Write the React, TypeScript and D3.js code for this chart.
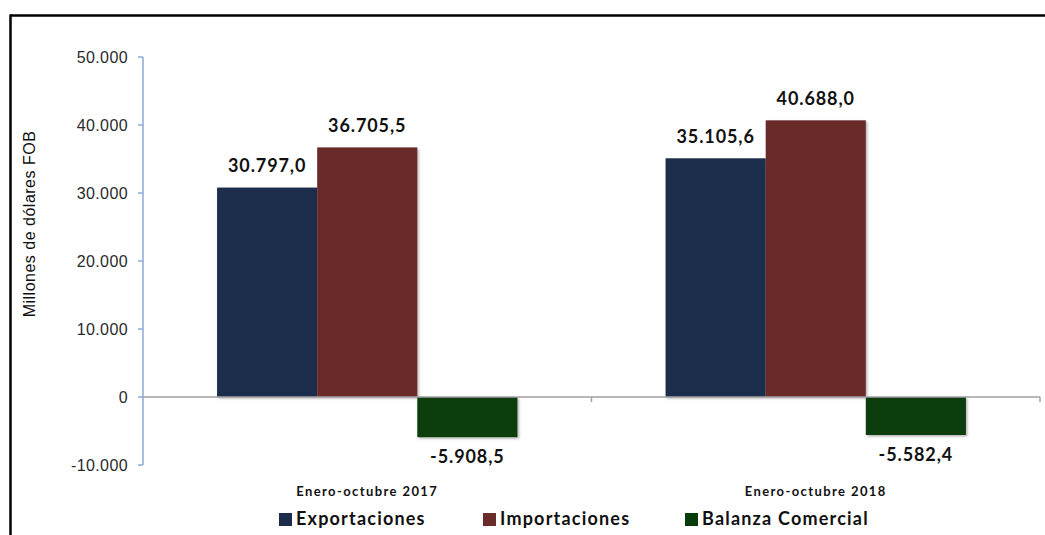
import React from "react";
import * as d3 from "d3";

const categories = ["Enero-octubre 2017", "Enero-octubre 2018"];
const seriesNames = ["Exportaciones", "Importaciones", "Balanza Comercial"];
const exportaciones = [30797.0, 35105.6];
const importaciones = [36705.5, 40688.0];
const balanza = [-5908.5, -5582.4];
const yTicks = [-10000, 0, 10000, 20000, 30000, 40000, 50000];
const colors = ["#1b2d4b", "#6a2b2b", "#083c09"];

const W = 1045;
const H = 535;

const fmtTick = (v: number) => {
  const s = d3.format(",.0f")(Math.abs(v)).replace(/,/g, ".");
  return (v < 0 ? "-" : "") + s;
};
const fmtVal = (v: number) => {
  const s = d3.format(",.1f")(Math.abs(v));
  const swapped = s.replace(/,/g, "#").replace(".", ",").replace(/#/g, ".");
  return (v < 0 ? "-" : "") + swapped;
};

export default function App() {
  const series = [exportaciones, importaciones, balanza];
  const plotLeft = 143;
  const plotRight = 1040;
  const y = d3.scaleLinear().domain([-10000, 50000]).range([465, 57]);
  const x0 = d3.scaleBand<string>().domain(categories).range([plotLeft, plotRight]).padding(0);
  const x1 = d3
    .scaleBand<string>()
    .domain(seriesNames)
    .range([0, x0.bandwidth()])
    .paddingInner(0)
    .paddingOuter(0.74);
  const labelFont = "Lato, 'Open Sans', sans-serif";
  const tickFont = "'Liberation Sans', Arial, sans-serif";

  return (
    <svg
      width={W}
      height={H}
      style={{ position: "absolute", left: 0, top: 0, background: "#fff" }}
    >
      <defs>
        <filter id="sh" x="-10%" y="-10%" width="130%" height="130%">
          <feDropShadow dx="1.5" dy="1.5" stdDeviation="1.2" floodColor="#000" floodOpacity="0.3" />
        </filter>
      </defs>
      {/* frame */}
      <line x1={10} y1={15.5} x2={W} y2={15.5} stroke="#000" strokeWidth={2.5} />
      <line x1={10.5} y1={14.5} x2={10.5} y2={H} stroke="#000" strokeWidth={2.5} />

      {/* y axis */}
      <line x1={plotLeft} x2={plotLeft} y1={y(50000)} y2={y(-10000)} stroke="#8aaad6" strokeWidth={1.5} />
      {yTicks.map((t) => (
        <g key={t}>
          <line x1={plotLeft - 5} x2={plotLeft} y1={y(t)} y2={y(t)} stroke="#8aaad6" strokeWidth={1.5} />
          <text
            x={plotLeft - 15}
            y={y(t)}
            dy="0.35em"
            textAnchor="end"
            fontFamily={tickFont}
            fontSize={16}
            letterSpacing={0.4}
            fill="#2a2a2a"
          >
            {fmtTick(t)}
          </text>
        </g>
      ))}
      <text
        transform={`translate(35, ${224}) rotate(-90)`}
        textAnchor="middle"
        fontFamily={tickFont}
        fontSize={16}
        letterSpacing={0.5}
        fill="#111"
      >
        Millones de dólares FOB
      </text>

      {/* bars */}
      {categories.map((c, ci) => (
        <g key={c}>
          {seriesNames.map((s, si) => {
            const v = series[si][ci];
            const bx = (x0(c) as number) + (x1(s) as number);
            const top = y(Math.max(0, v));
            const h = Math.abs(y(v) - y(0));
            return (
              <rect
                key={s}
                x={bx}
                y={top}
                width={x1.bandwidth()}
                height={h}
                fill={colors[si]}
                filter="url(#sh)"
              />
            );
          })}
        </g>
      ))}

      {/* x axis */}
      <line x1={plotLeft} x2={plotRight} y1={y(0)} y2={y(0)} stroke="#a0a0a0" strokeWidth={1.5} />
      {categories.map((c) => (
        <line
          key={c}
          x1={(x0(c) as number) + x0.bandwidth()}
          x2={(x0(c) as number) + x0.bandwidth()}
          y1={y(0)}
          y2={y(0) + 5}
          stroke="#a0a0a0"
          strokeWidth={1.5}
        />
      ))}

      {/* value labels */}
      {categories.map((c, ci) =>
        seriesNames.map((s, si) => {
          const v = series[si][ci];
          const cx = (x0(c) as number) + (x1(s) as number) + x1.bandwidth() / 2;
          const ly = v >= 0 ? y(v) - 22 : y(v) + 20;
          return (
            <text
              key={c + s}
              x={cx}
              y={ly}
              dy="0.35em"
              textAnchor="middle"
              fontFamily={labelFont}
              fontWeight="bold"
              fontSize={18}
              fill="#111"
              letterSpacing={0.9}
            >
              {fmtVal(v)}
            </text>
          );
        })
      )}

      {/* category labels */}
      {categories.map((c) => (
        <text
          key={c}
          x={(x0(c) as number) + x0.bandwidth() / 2}
          y={491}
          dy="0.35em"
          textAnchor="middle"
          fontFamily={labelFont}
          fontWeight="bold"
          fontSize={13}
          letterSpacing={1.4}
          fill="#111"
        >
          {c}
        </text>
      ))}

      {/* legend */}
      {seriesNames.map((s, i) => {
        const lx = [279, 483, 685][i];
        return (
          <g key={s} transform={`translate(${lx}, 519)`}>
            <rect x={0} y={-6} width={13} height={13} fill={colors[i]} />
            <text
              x={17}
              y={0}
              dy="0.35em"
              fontFamily={labelFont}
              fontWeight="bold"
              fontSize={18}
              letterSpacing={1.2}
              fill="#111"
            >
              {s}
            </text>
          </g>
        );
      })}
    </svg>
  );
}
